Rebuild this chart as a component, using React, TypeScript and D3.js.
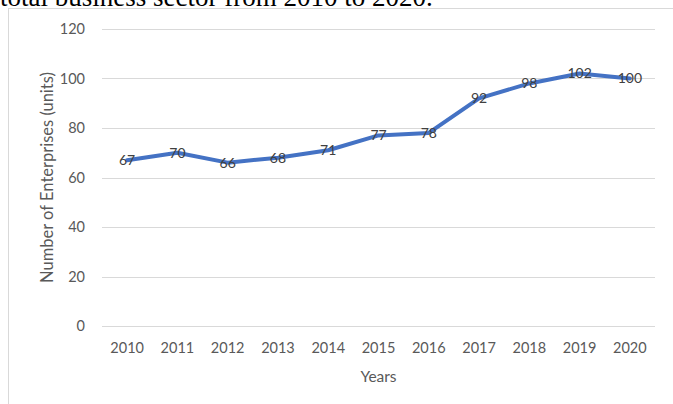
import React from "react";
import * as d3 from "d3";

const years = ["2010","2011","2012","2013","2014","2015","2016","2017","2018","2019","2020"];
const enterprises = [67, 70, 66, 68, 71, 77, 78, 92, 98, 102, 100];
const yTicks = [0, 20, 40, 60, 80, 100, 120];

const W = 673, H = 404;
const plot = { left: 102, right: 655, top: 29, bottom: 326 };
const font = "Lato, 'Noto Sans', sans-serif";

export default function App() {
  const x = d3.scaleBand<string>().domain(years).range([plot.left, plot.right]);
  const y = d3.scaleLinear().domain([0, 120]).range([plot.bottom, plot.top]);
  const cx = (d: string) => (x(d) as number) + x.bandwidth() / 2;
  const line = d3.line<number>().x((_, i) => cx(years[i])).y((v) => y(v));

  return (
    <svg width={W} height={H} style={{ position: "absolute", left: 0, top: 0, background: "#fff" }}>
      <text x={0} y={6} fontFamily="'Liberation Serif', 'Times New Roman', serif" fontSize={27} fill="#000">
        total business sector from 2010 to 2020.
      </text>
      <rect x={8.5} y={8.5} width={W + 10} height={H + 10} fill="none" stroke="#d9d9d9" strokeWidth={1} />
      {yTicks.map((t) => (
        <g key={t}>
          <line x1={plot.left} x2={plot.right} y1={Math.round(y(t)) + 0.5} y2={Math.round(y(t)) + 0.5} stroke="#d9d9d9" strokeWidth={1} />
          <text x={plot.left - 17} y={y(t)} dy="0.35em" textAnchor="end" fontFamily={font} fontSize={14.5} fill="#595959">{t}</text>
        </g>
      ))}
      {years.map((yr) => (
        <text key={yr} x={cx(yr)} y={348} dy="0.35em" textAnchor="middle" fontFamily={font} fontSize={14.5} fill="#595959">{yr}</text>
      ))}
      <text x={(plot.left + plot.right) / 2} y={377} dy="0.35em" textAnchor="middle" fontFamily={font} fontSize={15.5} fill="#595959">Years</text>
      <text transform={`translate(47, ${(plot.top + plot.bottom) / 2}) rotate(-90)`} dy="0.35em" textAnchor="middle" fontFamily={font} fontSize={16.5} fill="#595959">
        Number of Enterprises (units)
      </text>
      <path d={line(enterprises) || ""} fill="none" stroke="#4472C4" strokeWidth={4} strokeLinejoin="round" strokeLinecap="round" />
      {enterprises.map((v, i) => (
        <text key={i} x={cx(years[i])} y={y(v)} dy="0.35em" textAnchor="middle" fontFamily={font} fontSize={14} fill="#404040">{v}</text>
      ))}
    </svg>
  );
}
